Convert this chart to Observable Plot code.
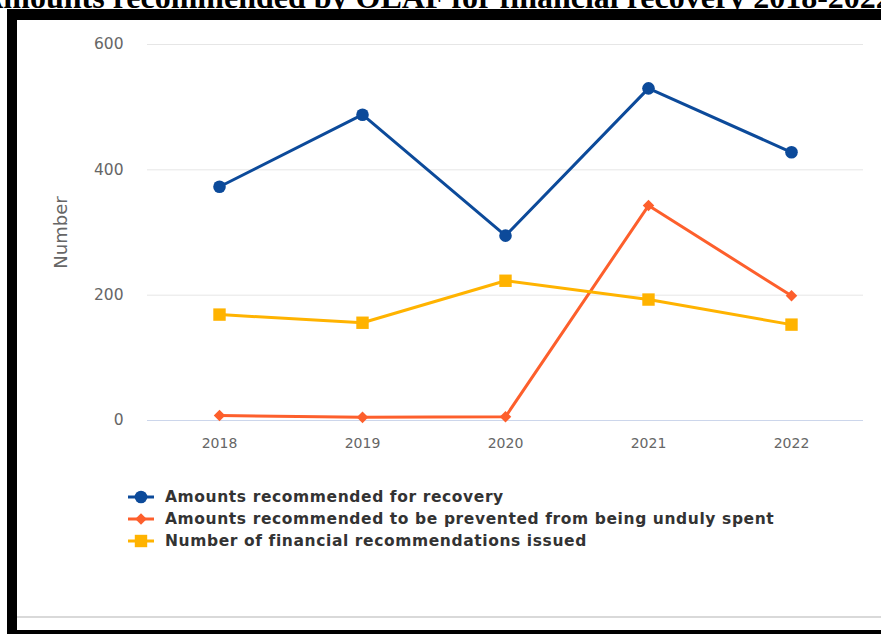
<!DOCTYPE html>
<html>
<head>
<meta charset="utf-8">
<script src="https://cdn.jsdelivr.net/npm/d3@7"></script>
<script src="https://cdn.jsdelivr.net/npm/@observablehq/plot@0.6"></script>
<style>
  html, body { margin: 0; padding: 0; background: #fff; overflow: hidden; }
  body { width: 881px; height: 634px; position: relative; }
  #title { position: absolute; left: 0; top: 0; }
  #frame { position: absolute; left: 7px; top: 9px; width: 900px; height: 610px;
           border-left: 10px solid #000; border-top: 11px solid #000; border-bottom: 10px solid #000; }
  #chart { position: absolute; left: 17px; top: 20px; }
  #sep { position: absolute; left: 17px; top: 616px; width: 864px; height: 0; border-top: 2px solid #d9d9d9; }
  #legend { position: absolute; left: 127px; top: 486px; font-family: "DejaVu Sans", sans-serif;
            font-weight: bold; font-size: 15.5px; letter-spacing: 0.6px; color: #333; }
  .item { display: flex; align-items: center; height: 22px; white-space: nowrap; }
  .item svg { margin-right: 10px; }
</style>
</head>
<body>
<svg id="title" width="881" height="20"></svg>
<div id="frame"></div>
<div id="chart"></div>
<div id="sep"></div>
<div id="legend"></div>
<script>
const titleText = "Amounts recommended by OLAF for financial recovery 2018-2022";
const years = ["2018", "2019", "2020", "2021", "2022"];
const seriesNames = [
  "Amounts recommended for recovery",
  "Amounts recommended to be prevented from being unduly spent",
  "Number of financial recommendations issued"
];
const recovery = [373, 488, 295, 530, 428];
const prevented = [8, 5, 6, 343, 199];
const recommendations = [169, 156, 223, 193, 153];
const yTicks = [0, 200, 400, 600];
const colors = ["#0c4a9a", "#fd5f2c", "#ffb300"];
const symbols = ["circle", "diamond2", "square"];
const radii = [6.3, 5.2, 7];

// title
d3.select("#title").append("text")
  .attr("x", 436).attr("y", 8).attr("text-anchor", "middle")
  .attr("font-family", "Liberation Serif").attr("font-weight", "bold")
  .attr("font-size", 32).attr("fill", "#000").text(titleText);

const allValues = [recovery, prevented, recommendations];
const data = [];
allValues.forEach((vals, s) => vals.forEach((v, i) => data.push({year: years[i], value: v, series: seriesNames[s]})));

const chart = Plot.plot({
  width: 864, height: 440,
  marginLeft: 130, marginRight: 18, marginTop: 24, marginBottom: 40,
  style: {fontFamily: "DejaVu Sans, sans-serif", fontSize: "13px", color: "#666", background: "transparent"},
  x: {type: "point", domain: years, padding: 0.5},
  y: {domain: [0, 600]},
  color: {domain: seriesNames, range: colors},
  symbol: {domain: seriesNames, range: symbols},
  marks: [
    Plot.gridY(yTicks.filter(d => d > 0), {stroke: "#e6e6e6", strokeOpacity: 1, strokeWidth: 1}),
    Plot.ruleY([0], {stroke: "#ccd6eb", strokeWidth: 1}),
    Plot.axisX({tickSize: 0, tickPadding: 18, label: null, color: "#666", fontSize: 14}),
    Plot.axisY({ticks: yTicks, tickSize: 0, tickPadding: 24, label: "Number", labelAnchor: "center",
                labelArrow: "none", labelOffset: 93, color: "#666", fontSize: 15.5}),
    Plot.line(data, {x: "year", y: "value", z: "series", stroke: "series", strokeWidth: 3}),
    ...seriesNames.map((name, s) => Plot.dot(data.filter(d => d.series === name),
      {x: "year", y: "value", fill: "series", symbol: "series", r: radii[s], stroke: null}))
  ]
});
document.getElementById("chart").appendChild(chart);
const lab = chart.querySelector('[aria-label="y-axis label"]');
if (lab) { lab.setAttribute("font-size", "18"); }

// legend
const legend = d3.select("#legend");
seriesNames.forEach((name, s) => {
  const item = legend.append("div").attr("class", "item");
  const sw = item.append("svg").attr("width", 28).attr("height", 16);
  sw.append("line").attr("x1", 1).attr("x2", 27).attr("y1", 8).attr("y2", 8)
    .attr("stroke", colors[s]).attr("stroke-width", 3);
  const sym = {circle: d3.symbolCircle, diamond2: d3.symbolDiamond2, square: d3.symbolSquare}[symbols[s]];
  sw.append("path").attr("transform", "translate(14,8)")
    .attr("d", d3.symbol(sym, Math.PI * radii[s] * radii[s])())
    .attr("fill", colors[s]);
  item.append("span").text(name);
});
</script>
</body>
</html>
